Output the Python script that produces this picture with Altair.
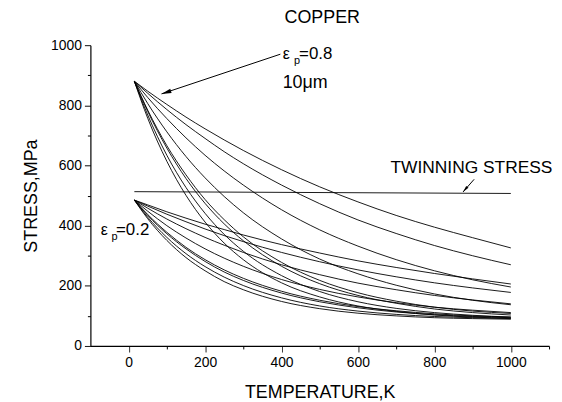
import altair as alt
import pandas as pd

# Temperatures (K) at which the curves were read
TEMPS = [15, 50, 100, 150, 200, 250, 300, 400, 500, 600, 700, 800, 900, 1000]

# Upper family (eps_p = 0.8), stress in MPa
U1 = [880, 847, 803, 761, 722, 685, 650, 586, 529, 479, 434, 395, 360, 326]
U2 = [880, 840, 786, 736, 690, 646, 606, 535, 473, 419, 374, 334, 300, 270]
U3 = [880, 826, 756, 692, 634, 582, 535, 453, 386, 332, 287, 250, 220, 196]
U4 = [880, 806, 712, 630, 559, 497, 443, 356, 289, 240, 202, 173, 152, 137]
U5 = [880, 784, 666, 569, 487, 420, 363, 278, 218, 177, 149, 129, 116, 108]
U6 = [880, 780, 658, 557, 474, 406, 350, 265, 207, 168, 142, 123, 111, 103]
U7 = [880, 768, 634, 527, 441, 371, 315, 234, 181, 147, 125, 111, 102, 96]
U8 = [880, 757, 614, 501, 412, 342, 287, 210, 163, 133, 115, 103, 96, 92]

# Lower family (eps_p = 0.2)
L1 = [485, 469, 446, 425, 405, 387, 369, 337, 309, 283, 261, 241, 223, 206]
L2 = [485, 465, 438, 413, 389, 367, 347, 311, 280, 253, 230, 210, 193, 178]
L3 = [485, 458, 422, 390, 361, 335, 311, 270, 237, 209, 187, 168, 153, 140]
L4 = [485, 448, 400, 359, 323, 292, 265, 221, 188, 163, 144, 129, 119, 111]
L5 = [485, 437, 378, 328, 287, 253, 225, 182, 152, 131, 117, 107, 100, 96]
L6 = [485, 434, 373, 323, 281, 246, 218, 176, 147, 127, 113, 104, 98, 94]
L7 = [485, 428, 361, 307, 264, 229, 201, 160, 133, 116, 105, 98, 94, 91]
L8 = [485, 423, 351, 294, 250, 214, 187, 148, 124, 109, 100, 94, 91, 89]

# Twinning stress line
TWIN_T = [15, 1000]
TWIN_S = [513, 507]

# Axis tick values (labelled every 200)
X_TICKS = [0, 100, 200, 300, 400, 500, 600, 700, 800, 900, 1000, 1100]
Y_TICKS = [0, 100, 200, 300, 400, 500, 600, 700, 800, 900, 1000]

# Text labels: (text, T, stress, font size)
LABELS = [
    ("COPPER", 408, 1073, 18),
    ("ε", 403, 954, 16),
    ("p", 433, 937, 11),
    ("=0.8", 446, 954, 17),
    ("10μm", 403, 858, 18),
    ("ε", -73, 370, 16),
    ("p", -45, 353, 11),
    ("=0.2", -33, 370, 17),
    ("TWINNING STRESS", 685, 574, 17.5),
]

# Arrows: tail (T, S) -> head (T, S), head angle, head size
ARROWS = [
    (397, 970, 86, 838, 251.6, 100),
    (904, 554, 875, 512, 220.2, 45),
]

curves = {"U1": U1, "U2": U2, "U3": U3, "U4": U4, "U5": U5, "U6": U6,
          "U7": U7, "U8": U8, "L1": L1, "L2": L2, "L3": L3, "L4": L4,
          "L5": L5, "L6": L6, "L7": L7, "L8": L8}
rows = []
for name, vals in curves.items():
    for t, s in zip(TEMPS, vals):
        rows.append({"T": t, "S": s, "curve": name})
df = pd.DataFrame(rows)

twin_df = pd.DataFrame({"T": TWIN_T, "S": TWIN_S, "curve": ["twin", "twin"]})
lab_df = pd.DataFrame(LABELS, columns=["txt", "T", "S", "fs"])
arr_df = pd.DataFrame(ARROWS, columns=["T", "S", "T2", "S2", "ang", "sz"])

FONT = "Liberation Sans"

x_scale = alt.Scale(domain=[-100, 1100], nice=False, zero=False)
y_scale = alt.Scale(domain=[0, 1000], nice=False)

minor_dash = {"condition": {"test": "datum.value % 200 !== 0", "value": [3, 20]}, "value": [1, 0]}

x_axis = alt.Axis(
    title="TEMPERATURE,K",
    values=X_TICKS,
    format="d",
    labelExpr="datum.value % 200 === 0 ? datum.label : ''",
    labelOverlap=False,
    labelFlush=False,
    tickSize=6,
    tickDash=minor_dash,
    labelPadding=4,
    titlePadding=14,
)
y_axis = alt.Axis(
    title="STRESS,MPa",
    values=Y_TICKS,
    format="d",
    labelExpr="datum.value % 200 === 0 ? datum.label : ''",
    labelOverlap=False,
    tickSize=6,
    tickDash=minor_dash,
    labelPadding=3,
    titlePadding=10,
)

lines = alt.Chart(df).mark_line(interpolate="monotone", color="black", strokeWidth=0.9).encode(
    x=alt.X("T:Q", scale=x_scale, axis=x_axis),
    y=alt.Y("S:Q", scale=y_scale, axis=y_axis),
    detail="curve:N",
)

twin = alt.Chart(twin_df).mark_line(color="black", strokeWidth=0.9).encode(
    x=alt.X("T:Q", axis=x_axis), y=alt.Y("S:Q", axis=y_axis)
)

texts = alt.Chart(lab_df).mark_text(align="left", baseline="alphabetic", font=FONT, color="black").encode(
    x=alt.X("T:Q", axis=x_axis), y=alt.Y("S:Q", axis=y_axis),
    text="txt:N", size=alt.Size("fs:Q", scale=None)
)

arrow_lines = alt.Chart(arr_df).mark_rule(color="black", strokeWidth=1).encode(
    x=alt.X("T:Q", axis=x_axis), y=alt.Y("S:Q", axis=y_axis), x2="T2:Q", y2="S2:Q"
)

heads = alt.Chart(arr_df).mark_point(
    shape="M0,0L-0.45,2L0.45,2Z", filled=True, color="black", opacity=1
).encode(
    x=alt.X("T2:Q", axis=x_axis), y=alt.Y("S2:Q", axis=y_axis),
    angle=alt.Angle("ang:Q", scale=None), size=alt.Size("sz:Q", scale=None)
)

chart = alt.layer(lines, twin, arrow_lines, heads, texts).properties(
    width=462, height=303,
    padding={"left": 83, "top": 36, "right": 5, "bottom": 55},
    autosize=alt.AutoSizeParams(type="none"),
    background="white",
).configure_axis(
    labelFont=FONT, titleFont=FONT, labelFontSize=14, titleFontSize=18,
    titleFontWeight="normal", domainColor="black", tickColor="black",
    labelColor="black", titleColor="black", grid=False, domainWidth=1.2, tickWidth=1,
).configure_view(stroke=None)

chart.save("out.html", embed_options={"renderer": "svg", "actions": False})
